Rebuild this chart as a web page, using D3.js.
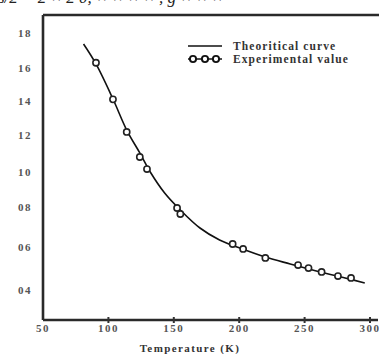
<!DOCTYPE html>
<html>
<head>
<meta charset="utf-8">
<script src="https://cdn.jsdelivr.net/npm/d3@7"></script>
<style>
  body { margin: 0; background: #fff; }
  svg { display: block; font-family: "Liberation Serif", "DejaVu Serif", serif; }
</style>
</head>
<body>
<div id="chart"></div>
<script>
// tick labels
const xTicks = [50, 100, 150, 200, 250, 300];
const yTickValues = [1.8, 1.6, 1.4, 1.2, 1.0, 0.8, 0.6, 0.4];
const yTickLabels = ['18', '16', '14', '12', '10', '08', '06', '04'];
// pixel position of each y label (the figure's y axis is not evenly spaced)
const yTickPixels = [33, 68, 101, 135, 172, 207, 247, 290];

// theoretical curve
const curveT = [81, 90.5, 103.5, 114, 124, 132, 143, 155, 170, 185, 200.5, 220, 239, 262, 281, 296];
const curveV = [1.737, 1.623, 1.412, 1.229, 1.103, 1.0, 0.88, 0.785, 0.695, 0.635, 0.595, 0.553, 0.521, 0.484, 0.456, 0.433];

// experimental values
const expT = [90.5, 103.5, 114, 124, 129.5, 152.5, 155, 195, 203, 220, 245, 253, 263, 275.5, 285.5];
const expV = [1.63, 1.41, 1.218, 1.081, 1.016, 0.795, 0.765, 0.615, 0.591, 0.549, 0.516, 0.502, 0.484, 0.465, 0.456];

const width = 379, height = 354;
const margin = {top: 15, right: 1, bottom: 34, left: 43};

const svg = d3.select('#chart').append('svg')
  .attr('width', width)
  .attr('height', height);

// cut-off line of text from the page above the figure
svg.append('text')
  .attr('x', -2)
  .attr('y', 3)
  .style('font-size', '17px')
  .style('font-style', 'italic')
  .style('fill', '#222')
  .text('s/2 = 2 × 2 0, × × × × , g × × ×');

const x = d3.scaleLinear().domain([50, 300]).range([margin.left, 370]);
const y = d3.scaleLinear().domain(yTickValues).range(yTickPixels);

const yBottom = height - margin.bottom;

// frame: left, bottom, top
svg.append('line')
  .attr('x1', margin.left).attr('x2', width)
  .attr('y1', margin.top).attr('y2', margin.top)
  .attr('stroke', '#2a2a2a').attr('stroke-width', 2.6);
svg.append('line')
  .attr('x1', margin.left).attr('x2', margin.left)
  .attr('y1', margin.top).attr('y2', yBottom)
  .attr('stroke', '#2a2a2a').attr('stroke-width', 2.6);
svg.append('line')
  .attr('x1', margin.left).attr('x2', width - 1)
  .attr('y1', yBottom).attr('y2', yBottom)
  .attr('stroke', '#2a2a2a').attr('stroke-width', 2.6);

// x ticks
const xg = svg.append('g');
xg.selectAll('line').data(xTicks.slice(1)).enter().append('line')
  .attr('x1', d => x(d)).attr('x2', d => x(d))
  .attr('y1', yBottom - 3).attr('y2', yBottom + 3)
  .attr('stroke', '#333').attr('stroke-width', 2);
xg.selectAll('text').data(xTicks).enter().append('text')
  .attr('x', d => x(d))
  .attr('y', yBottom + 12)
  .attr('text-anchor', 'middle')
  .style('font-size', '11px')
  .style('font-weight', 'bold')
  .style('letter-spacing', '1.5px')
  .style('fill', '#555')
  .text(d => d);

svg.append('text')
  .attr('x', 190)
  .attr('y', 352)
  .attr('text-anchor', 'middle')
  .style('font-size', '11px')
  .style('font-weight', 'bold')
  .style('letter-spacing', '1.4px')
  .style('fill', '#333')
  .text('Temperature (K)');

// y labels
svg.append('g').selectAll('text').data(yTickValues).enter().append('text')
  .attr('x', 32)
  .attr('y', d => y(d))
  .attr('dy', '0.35em')
  .attr('text-anchor', 'end')
  .style('font-size', '11px')
  .style('font-weight', 'bold')
  .style('letter-spacing', '1.5px')
  .style('fill', '#555')
  .text((d, i) => yTickLabels[i]);

// theoretical curve
const line = d3.line()
  .x(d => x(d[0]))
  .y(d => y(d[1]))
  .curve(d3.curveCatmullRom);

svg.append('path')
  .datum(d3.zip(curveT, curveV))
  .attr('d', line)
  .attr('fill', 'none')
  .attr('stroke', '#111')
  .attr('stroke-width', 1.6);

// experimental markers
svg.append('g').selectAll('circle').data(d3.zip(expT, expV)).enter().append('circle')
  .attr('cx', d => x(d[0]))
  .attr('cy', d => y(d[1]))
  .attr('r', 3.1)
  .attr('fill', '#fff')
  .attr('stroke', '#222')
  .attr('stroke-width', 1.6);

// legend
const legend = svg.append('g');
legend.append('line')
  .attr('x1', 188).attr('x2', 222)
  .attr('y1', 46).attr('y2', 46)
  .attr('stroke', '#111').attr('stroke-width', 1.6);
legend.append('line')
  .attr('x1', 188).attr('x2', 222)
  .attr('y1', 59).attr('y2', 59)
  .attr('stroke', '#111').attr('stroke-width', 1.6);
legend.selectAll('circle').data([193, 205, 216]).enter().append('circle')
  .attr('cx', d => d).attr('cy', 59).attr('r', 3.1)
  .attr('fill', '#fff').attr('stroke', '#111').attr('stroke-width', 1.9);
legend.selectAll('text').data(['Theoritical curve', 'Experimental value']).enter().append('text')
  .attr('x', 233)
  .attr('y', (d, i) => 46 + i * 13)
  .attr('dy', '0.35em')
  .style('font-size', '11.5px')
  .style('font-weight', 'bold')
  .style('letter-spacing', '1.1px')
  .style('fill', '#333')
  .text(d => d);
</script>
</body>
</html>
